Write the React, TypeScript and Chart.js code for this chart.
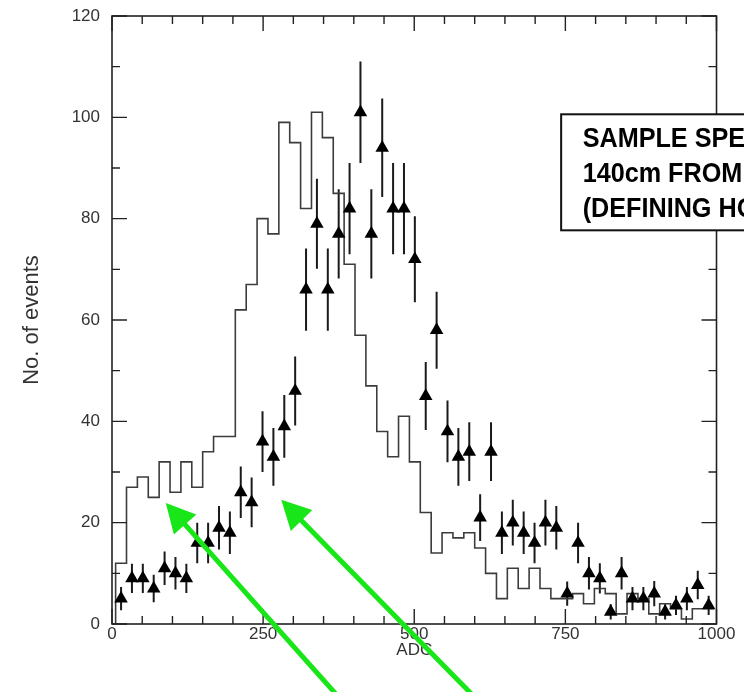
import React, { useEffect, useRef } from 'react';
import { Chart, registerables } from 'chart.js';

Chart.register(...registerables);

// ---- data ----
const BIN_START = 6;   // ADC of first bin edge
const BIN_WIDTH = 18;  // ADC width of a bin
// histogram (simulation), one value per bin
const simulated = [12, 27, 29, 25, 32, 26, 32, 27, 34, 37, 37, 62, 67, 80, 77, 99, 95, 82, 101, 96,
  85, 71, 57, 47, 38, 33, 41, 32, 22, 14, 18, 17, 18, 15, 10, 5, 11, 7, 11, 7,
  5, 5, 6, 4, 7, 6, 2, 6, 5, 2, 4, 3, 1, 3, 3];
// measured points (triangles), one value per bin
const measured = [5, 9, 9, 7, 11, 10, 9, 16, 16, 19, 18, 26, 24, 36, 33, 39, 46, 66, 79, 66,
  77, 82, 101, 77, 94, 82, 82, 72, 45, 58, 38, 33, 34, 21, 34, 18, 20, 18, 16, 20,
  19, 6, 16, 10, 9, 2.4, 10, 5, 5, 6, 2.4, 3.7, 5, 7.7, 3.7];
// half-length of error bars
const measuredErr = [2.3, 2.9, 2.9, 2.7, 3.3, 3.2, 2.9, 4, 4, 4.3, 4.2, 5.1, 4.9, 6, 5.7, 6.2, 6.8, 8.1, 8.9, 8.1,
  8.8, 9, 10, 8.8, 9.7, 9, 9, 8.5, 6.7, 7.6, 6.1, 5.7, 5.8, 4.6, 5.8, 4.2, 4.5, 4.2, 4, 4.5,
  4.3, 2.4, 4, 3.2, 3, 1.5, 3.2, 2.3, 2.3, 2.5, 1.5, 1.9, 2.3, 2.8, 1.9];

const X_MIN = 0, X_MAX = 1000, X_MAJOR = 250, X_MINOR = 50;
const Y_MIN = 0, Y_MAX = 120, Y_MAJOR = 20, Y_MINOR = 10;
const X_TITLE = 'ADC';
const Y_TITLE = 'No. of events';

const noteLines = ['SAMPLE SPECTRUM', '140cm FROM', '(DEFINING HOLE)'];
const noteBox = { adc: 743, top: 100.6, bottom: 77.7 };
// arrow tips (data coords) and direction (dx per dy, screen)
const arrowTips = [{ x: 89, y: 23.9, slope: 0.89 }, { x: 280, y: 24.5, slope: 0.98 }];

const edges = simulated.map((_, i) => BIN_START + i * BIN_WIDTH);
const histPoints = [
  { x: BIN_START, y: 0 },
  ...simulated.map((v, i) => ({ x: edges[i], y: v })),
  { x: BIN_START + simulated.length * BIN_WIDTH, y: simulated[simulated.length - 1] },
];
const centers = measured.map((_, i) => BIN_START + (i + 0.5) * BIN_WIDTH);
const measPoints = measured.map((v, i) => ({ x: centers[i], y: v }));

const FONT = "'Liberation Sans', Arial, Helvetica, sans-serif";

const errorBars = {
  id: 'errorBars',
  beforeDatasetsDraw(chart: any) {
    const { ctx, chartArea: a, scales } = chart;
    const x = scales.x, y = scales.y;
    ctx.save();
    ctx.beginPath();
    ctx.rect(a.left, a.top, a.right - a.left, a.bottom - a.top);
    ctx.clip();
    ctx.strokeStyle = '#1a1a1a';
    ctx.lineWidth = 2;
    measured.forEach((v, i) => {
      const px = x.getPixelForValue(centers[i]);
      ctx.beginPath();
      ctx.moveTo(px, y.getPixelForValue(Math.max(0, v - measuredErr[i])));
      ctx.lineTo(px, y.getPixelForValue(v + measuredErr[i]));
      ctx.stroke();
    });
    ctx.restore();
  },
};

const frame = {
  id: 'frame',
  afterDraw(chart: any) {
    const { ctx, chartArea: a, scales } = chart;
    const x = scales.x, y = scales.y;
    ctx.save();
    ctx.strokeStyle = '#222';
    ctx.lineWidth = 1.6;
    ctx.strokeRect(a.left, a.top, a.right - a.left, a.bottom - a.top);
    ctx.lineWidth = 1.4;
    ctx.beginPath();
    for (let v = X_MIN; v <= X_MAX; v += X_MINOR) {
      const px = x.getPixelForValue(v);
      const len = v % X_MAJOR === 0 ? 15 : 8;
      ctx.moveTo(px, a.bottom); ctx.lineTo(px, a.bottom - len);
      ctx.moveTo(px, a.top); ctx.lineTo(px, a.top + len);
    }
    for (let v = Y_MIN; v <= Y_MAX; v += Y_MINOR) {
      const py = y.getPixelForValue(v);
      const len = v % Y_MAJOR === 0 ? 15 : 8;
      ctx.moveTo(a.left, py); ctx.lineTo(a.left + len, py);
      ctx.moveTo(a.right, py); ctx.lineTo(a.right - len, py);
    }
    ctx.stroke();

    // note box
    const bx = x.getPixelForValue(noteBox.adc);
    const bt = y.getPixelForValue(noteBox.top);
    const bb = y.getPixelForValue(noteBox.bottom);
    ctx.fillStyle = '#fff';
    ctx.fillRect(bx, bt, chart.width - bx + 20, bb - bt);
    ctx.strokeStyle = '#111';
    ctx.lineWidth = 2;
    ctx.strokeRect(bx, bt, chart.width - bx + 20, bb - bt);
    ctx.fillStyle = '#000';
    ctx.font = `bold 28px ${FONT}`;
    ctx.textBaseline = 'alphabetic';
    noteLines.forEach((t, i) => {
      ctx.save();
      ctx.translate(bx + 21.5, bt + 32.7 + i * 35);
      ctx.scale(0.9, 1);
      ctx.fillText(t, 0, 0);
      ctx.restore();
    });

    // green arrows
    ctx.fillStyle = '#19e619';
    ctx.strokeStyle = '#19e619';
    arrowTips.forEach((t) => {
      const n = Math.hypot(t.slope, 1);
      const dx = t.slope / n, dy = 1 / n;
      const tx = x.getPixelForValue(t.x), ty = y.getPixelForValue(t.y);
      const hl = 29, hw = 15;
      const bxc = tx + dx * hl, byc = ty + dy * hl;
      ctx.beginPath();
      ctx.moveTo(tx, ty);
      ctx.lineTo(bxc + dy * hw, byc - dx * hw);
      ctx.lineTo(bxc - dy * hw, byc + dx * hw);
      ctx.closePath();
      ctx.fill();
      ctx.lineWidth = 5;
      ctx.beginPath();
      ctx.moveTo(bxc - dx * 2, byc - dy * 2);
      ctx.lineTo(bxc + dx * 400, byc + dy * 400);
      ctx.stroke();
    });
    ctx.restore();
  },
};

export default function App() {
  const ref = useRef<HTMLCanvasElement | null>(null);
  useEffect(() => {
    document.body.style.margin = '0';
    const canvas = ref.current!;
    const chart = new Chart(canvas, {
      type: 'scatter',
      data: {
        datasets: [
          {
            type: 'scatter',
            label: 'measured',
            data: measPoints,
            pointStyle: 'triangle',
            pointRadius: 7.8,
            pointBackgroundColor: '#000',
            pointBorderColor: '#000',
            pointBorderWidth: 0,
            showLine: false,
          } as any,
          {
            type: 'line',
            label: 'simulation',
            data: histPoints,
            stepped: true,
            borderColor: '#3c3c3c',
            borderWidth: 1.6,
            pointRadius: 0,
            fill: false,
          } as any,
        ],
      },
      options: {
        animation: false,
        responsive: false,
        devicePixelRatio: 1,
        layout: { padding: { left: 0, right: 27.5, top: 16, bottom: 0 } },
        plugins: { legend: { display: false }, tooltip: { enabled: false } },
        scales: {
          x: {
            type: 'linear',
            min: X_MIN,
            max: X_MAX,
            afterFit: (s: any) => { s.height = 68; s.paddingLeft = 0; s.paddingRight = 0; },
            grid: { display: false, drawTicks: false },
            border: { display: false },
            ticks: {
              stepSize: X_MAJOR,
              maxRotation: 0,
              padding: 0,
              color: '#333',
              font: { family: FONT, size: 17 },
              callback: (v: any) => String(v),
            },
            title: {
              display: true,
              text: X_TITLE,
              color: '#333',
              font: { family: FONT, size: 17 },
              padding: { top: 0, bottom: 31 },
            },
          },
          y: {
            type: 'linear',
            min: Y_MIN,
            max: Y_MAX,
            afterFit: (s: any) => { s.width = 112; s.paddingTop = 0; s.paddingBottom = 0; },
            grid: { display: false, drawTicks: false },
            border: { display: false },
            ticks: {
              stepSize: Y_MAJOR,
              padding: 12,
              color: '#333',
              font: { family: FONT, size: 17 },
              callback: (v: any) => String(v),
            },
            title: {
              display: true,
              text: Y_TITLE,
              color: '#333',
              font: { family: FONT, size: 22 },
              padding: { top: 19, bottom: 0 },
            },
          },
        },
      },
      plugins: [errorBars, frame],
    });
    return () => chart.destroy();
  }, []);
  return <canvas ref={ref} width={744} height={692} style={{ display: 'block' }} />;
}
